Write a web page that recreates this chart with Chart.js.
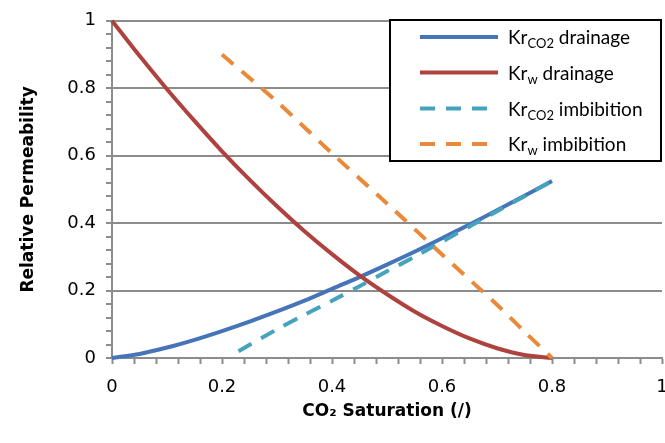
<!DOCTYPE html>
<html>
<head>
<meta charset="utf-8">
<script src="https://cdn.jsdelivr.net/npm/chart.js@4/dist/chart.umd.min.js"></script>
<style>
  html, body { margin: 0; padding: 0; background: #fff; }
  #wrap { width: 665px; height: 443px; }
</style>
</head>
<body>
<div id="wrap"><canvas id="c" width="665" height="443"></canvas></div>
<script>
// ---- data ----
const drainageSat = [0, 0.05, 0.1, 0.15, 0.2, 0.25, 0.3, 0.35, 0.4, 0.45, 0.5, 0.55, 0.6, 0.65, 0.7, 0.75, 0.8];
const krCO2Drainage = [0, 0.012, 0.031, 0.054, 0.080, 0.108, 0.138, 0.170, 0.205, 0.240, 0.277, 0.315, 0.355, 0.396, 0.438, 0.481, 0.525];
const krWDrainage = [1, 0.896, 0.797, 0.703, 0.613, 0.529, 0.450, 0.376, 0.308, 0.245, 0.189, 0.138, 0.095, 0.058, 0.029, 0.009, 0];

const imbCO2Sat = [0.23, 0.3, 0.35, 0.4, 0.45, 0.5, 0.55, 0.6, 0.65, 0.7, 0.75, 0.8];
const krCO2Imbibition = [0.02, 0.085, 0.128, 0.170, 0.213, 0.257, 0.300, 0.345, 0.390, 0.435, 0.480, 0.525];

const imbWSat = [0.2, 0.3, 0.4, 0.5, 0.6, 0.7, 0.75, 0.8];
const krWImbibition = [0.9, 0.76, 0.607, 0.458, 0.307, 0.158, 0.078, 0];

const seriesNames = ['Kr CO2 drainage', 'Kr w drainage', 'Kr CO2 imbibition', 'Kr w imbibition'];
// legend text parts: [main, subscript, rest]
const legendParts = [
  ['Kr', 'CO2', ' drainage'],
  ['Kr', 'w', ' drainage'],
  ['Kr', 'CO2', ' imbibition'],
  ['Kr', 'w', ' imbibition']
];
const xTickValues = [0, 0.2, 0.4, 0.6, 0.8, 1];
const xTickLabels = ['0', '0.2', '0.4', '0.6', '0.8', '1'];
const yTickValues = [0, 0.2, 0.4, 0.6, 0.8, 1];
const yTickLabels = ['0', '0.2', '0.4', '0.6', '0.8', '1'];
const xTitle = 'CO\u2082 Saturation (/)';
const yTitle = 'Relative Permeability';

// ---- styling ----
const colors = ['#4674B8', '#AE423F', '#45A3BE', '#E98A3A'];
const GRID = '#8C8C8C';

function pts(xs, ys) { return xs.map((x, i) => ({ x: x, y: ys[i] })); }
function majorLabel(v, vals, labels) {
  for (let i = 0; i < vals.length; i++) if (Math.abs(v - vals[i]) < 1e-6) return labels[i];
  return '';
}
function isMajor(v, vals) { return vals.some(m => Math.abs(v - m) < 1e-6); }

const legendPlugin = {
  id: 'richLegend',
  afterDraw(chart) {
    const ctx = chart.ctx;
    const bx = 390, by = 20, bw = 271, bh = 141;
    ctx.save();
    ctx.fillStyle = '#fff';
    ctx.fillRect(bx, by, bw, bh);
    ctx.strokeStyle = '#000';
    ctx.lineWidth = 2;
    ctx.strokeRect(bx, by, bw, bh);
    const ys = [37, 72.5, 108.5, 144];
    chart.data.datasets.forEach((ds, i) => {
      const y = ys[i];
      ctx.beginPath();
      ctx.strokeStyle = ds.borderColor;
      ctx.lineWidth = ds.borderWidth;
      ctx.setLineDash(ds.borderDash || []);
      ctx.lineCap = 'butt';
      ctx.moveTo(420, y);
      ctx.lineTo(498, y);
      ctx.stroke();
      ctx.setLineDash([]);
      const p = legendParts[i];
      let x = 508;
      ctx.fillStyle = '#000';
      ctx.textBaseline = 'alphabetic';
      ctx.font = '19px Lato';
      ctx.fillText(p[0], x, y + 7);
      x += ctx.measureText(p[0]).width;
      ctx.font = '13px Lato';
      ctx.fillText(p[1], x, y + 11);
      x += ctx.measureText(p[1]).width;
      ctx.font = '19px Lato';
      ctx.fillText(p[2], x, y + 7);
    });
    ctx.restore();
  }
};

const common = { pointRadius: 0, pointHoverRadius: 0, fill: false, tension: 0.3, clip: 6 };

new Chart(document.getElementById('c'), {
  type: 'line',
  data: {
    datasets: [
      Object.assign({ label: seriesNames[0], data: pts(drainageSat, krCO2Drainage), borderColor: colors[0], borderWidth: 4, order: 4 }, common),
      Object.assign({ label: seriesNames[1], data: pts(drainageSat, krWDrainage), borderColor: colors[1], borderWidth: 4, order: 3 }, common),
      Object.assign({ label: seriesNames[2], data: pts(imbCO2Sat, krCO2Imbibition), borderColor: colors[2], borderWidth: 4, borderDash: [15, 11], order: 2 }, common),
      Object.assign({ label: seriesNames[3], data: pts(imbWSat, krWImbibition), borderColor: colors[3], borderWidth: 4, borderDash: [15, 11], order: 1 }, common)
    ]
  },
  options: {
    responsive: false,
    animation: false,
    events: [],
    layout: { padding: { left: 0, right: 3, top: 20, bottom: 0 } },
    plugins: { legend: { display: false }, tooltip: { enabled: false } },
    scales: {
      x: {
        type: 'linear', min: 0, max: 1,
        afterFit(s) { s.height = 85; s.paddingRight = 0; s.paddingLeft = 0; },
        ticks: {
          stepSize: 0.04, autoSkip: false, maxRotation: 0,
          color: '#000', padding: 13,
          font: { family: 'DejaVu Sans', size: 18 },
          callback: v => majorLabel(v, xTickValues, xTickLabels)
        },
        grid: { drawOnChartArea: false, drawTicks: true, tickLength: 6, tickColor: GRID, tickWidth: 2 },
        border: { display: true, color: GRID, width: 2 },
        title: {
          display: true, text: xTitle, color: '#000',
          font: { family: 'DejaVu Sans', size: 17, weight: 'bold' },
          padding: { top: 0, bottom: 21 }
        }
      },
      y: {
        type: 'linear', min: 0, max: 1,
        afterFit(s) { s.width = 112; },
        ticks: {
          stepSize: 0.04, autoSkip: false,
          color: '#000', padding: 10,
          font: { family: 'DejaVu Sans', size: 18 },
          callback: v => majorLabel(v, yTickValues, yTickLabels)
        },
        grid: {
          drawTicks: true, tickLength: 6, tickWidth: 2, tickColor: GRID,
          lineWidth: 2,
          color: ctx => (ctx.tick && isMajor(ctx.tick.value, yTickValues)) ? GRID : 'rgba(0,0,0,0)'
        },
        border: { display: true, color: GRID, width: 2 },
        title: {
          display: true, text: yTitle, color: '#000',
          font: { family: 'DejaVu Sans', size: 17, weight: 'bold' },
          padding: { top: 18, bottom: 0 }
        }
      }
    }
  },
  plugins: [legendPlugin]
});
</script>
</body>
</html>
